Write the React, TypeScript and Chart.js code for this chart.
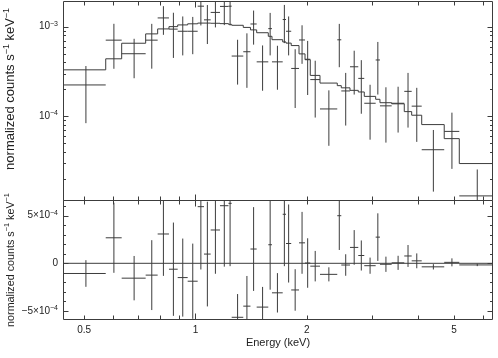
import React, { useEffect, useRef } from "react";
import { Chart, registerables } from "chart.js";

Chart.register(...registerables);

// ---- data ----
const binEdges = [0.4393, 0.572, 0.6317, 0.7334, 0.7903, 0.8479, 0.8952, 0.9526, 1.0137, 1.0544, 1.0992, 1.1648, 1.228, 1.2526, 1.3464, 1.408, 1.4635, 1.5731, 1.6097, 1.7209, 1.7566, 1.8144, 1.9048, 1.9772, 2.0428, 2.1703, 2.4166, 2.4779, 2.6158, 2.7542, 2.8588, 3.069, 3.1521, 3.3904, 3.6669, 3.8398, 4.0873, 4.7021, 5.1642, 6.386];
const flux = [2.24e-4, 7.07e-4, 4.99e-4, 7.07e-4, 1.25e-3, 9.38e-4, 8.88e-4, 8.88e-4, 1.69e-3, 1.19e-3, 1.44e-3, 1.68e-3, 1.69e-3, 4.7e-4, 5.25e-4, 1.07e-3, 4.05e-4, 9.5e-4, 4.05e-4, 1.2e-3, 8.88e-4, 3.42e-4, 7.1e-4, 4.33e-4, 2.57e-4, 1.21e-4, 7.13e-4, 1.92e-4, 3.57e-4, 2.65e-4, 1.4e-4, 4.25e-4, 1.31e-4, 1.4e-4, 1.9e-4, 1.3e-4, 4.25e-5, 6.8e-5, 1.3e-5];
const fluxErr = [1.4e-4, 3.68e-4, 2.33e-4, 3.67e-4, 4.4e-4, 4.9e-4, 4.1e-4, 3.95e-4, 6.6e-4, 5.5e-4, 4.6e-4, 6.4e-4, 6.6e-4, 2.44e-4, 3.17e-4, 4.4e-4, 2.12e-4, 4.72e-4, 2.07e-4, 5.45e-4, 4.1e-4, 2.18e-4, 3.25e-4, 2.6e-4, 1.6e-4, 7.4e-5, 3.6e-4, 1.13e-4, 1.82e-4, 1.58e-4, 8.5e-5, 2.5e-4, 8.0e-5, 7.4e-5, 1.15e-4, 7.8e-5, 2.8e-5, 4.2e-5, 1.26e-5];
const model = [3.3e-4, 4.38e-4, 6.53e-4, 8.3e-4, 9.43e-4, 1.0e-3, 1.045e-3, 1.075e-3, 1.095e-3, 1.095e-3, 1.09e-3, 1.08e-3, 1.06e-3, 1.035e-3, 9.8e-4, 9.2e-4, 8.55e-4, 7.8e-4, 7.15e-4, 6.75e-4, 6.55e-4, 6.15e-4, 4.97e-4, 4.28e-4, 2.86e-4, 2.35e-4, 2.2e-4, 2.08e-4, 1.95e-4, 1.87e-4, 1.67e-4, 1.55e-4, 1.42e-4, 1.38e-4, 1.13e-4, 1.03e-4, 8.1e-5, 5.65e-5, 2.98e-5];
const resid = [-1.07e-4, 2.68e-4, -1.56e-4, -1.24e-4, 3.08e-4, -0.62e-4, -1.5e-4, -1.88e-4, 5.95e-4, 0.97e-4, 3.5e-4, 6.05e-4, 6.3e-4, -5.67e-4, -4.5e-4, 1.5e-4, -4.6e-4, 1.95e-4, -3.1e-4, 5.15e-4, 2.08e-4, -2.8e-4, 2.15e-4, 0.03e-4, -0.3e-4, -1.16e-4, 5.0e-4, -0.18e-4, 1.67e-4, 0.82e-4, -0.25e-4, 2.75e-4, -0.1e-4, 0.05e-4, 0.77e-4, 0.26e-4, -0.37e-4, 0.1e-4, -0.17e-4];

// ---- axes ----
const X_MIN = 0.4412, X_MAX = 6.33;
const Y_MIN = 1.17e-5, Y_MAX = 1.93e-3;
const R_MIN = -5.85e-4, R_MAX = 6.65e-4;
const xTickVals = [0.5, 0.6, 0.7, 0.8, 0.9, 1, 2, 3, 4, 5, 6];
const xMajorVals = [1];
const xTickLabels: Record<string, string> = { "0.5": "0.5", "1": "1", "2": "2", "5": "5" };
const yTickVals = [2e-5, 3e-5, 4e-5, 5e-5, 6e-5, 7e-5, 8e-5, 9e-5, 1e-4, 2e-4, 3e-4, 4e-4, 5e-4, 6e-4, 7e-4, 8e-4, 9e-4, 1e-3];
const yMajorVals = [1e-4, 1e-3];
const yLabels = [
  { v: 1e-3, base: "10", sup: "\u22123" },
  { v: 1e-4, base: "10", sup: "\u22124" },
];
const rTickVals = [-5e-4, -4e-4, -3e-4, -2e-4, -1e-4, 0, 1e-4, 2e-4, 3e-4, 4e-4, 5e-4, 6e-4];
const rMajorVals = [-5e-4, 0, 5e-4];
const rLabels = [
  { v: 5e-4, base: "5\u00d710", sup: "\u22124" },
  { v: 0, base: "0", sup: "" },
  { v: -5e-4, base: "\u22125\u00d710", sup: "\u22124" },
];
const yTitle = [
  { t: "normalized counts s", sup: false },
  { t: "\u22121", sup: true },
  { t: " keV", sup: false },
  { t: "\u22121", sup: true },
];
const xTitle = "Energy (keV)";

const FONT = '"Liberation Sans", Arial, Helvetica, sans-serif';
const INK = "#3c3c3c";
const TEXT = "#222";

function crosses(vals: number[], errs: number[], floor: number | null) {
  const pts: { x: number; y: number | null }[] = [];
  for (let i = 0; i < vals.length; i++) {
    const lo = binEdges[i], hi = binEdges[i + 1];
    const c = (lo + hi) / 2;
    const v = vals[i], e = errs[i];
    let bot = v - e;
    if (floor !== null) bot = Math.max(bot, floor);
    pts.push({ x: lo, y: v }, { x: hi, y: v }, { x: hi, y: null });
    pts.push({ x: c, y: bot }, { x: c, y: v + e }, { x: c, y: null });
  }
  return pts;
}

function steps(vals: number[]) {
  const pts = vals.map((v, i) => ({ x: binEdges[i], y: v }));
  pts.push({ x: binEdges[vals.length], y: vals[vals.length - 1] });
  return pts;
}

function drawRich(ctx: CanvasRenderingContext2D, base: string, sup: string, xRight: number, y: number, fs: number, sfs: number) {
  ctx.font = `${fs}px ${FONT}`;
  const w1 = ctx.measureText(base).width;
  ctx.font = `${sfs}px ${FONT}`;
  const w2 = sup ? ctx.measureText(sup).width : 0;
  const x0 = xRight - w1 - w2;
  ctx.textBaseline = "middle";
  ctx.textAlign = "left";
  ctx.font = `${fs}px ${FONT}`;
  ctx.fillText(base, x0, y);
  if (sup) {
    ctx.font = `${sfs}px ${FONT}`;
    ctx.fillText(sup, x0 + w1, y - fs * 0.3);
  }
}

function titleWidth(ctx: CanvasRenderingContext2D, fs: number) {
  const sfs = fs * 0.68;
  return yTitle.reduce((acc, s) => {
    ctx.font = `${s.sup ? sfs : fs}px ${FONT}`;
    return acc + ctx.measureText(s.t).width;
  }, 0);
}

// draws the rotated y title, sized so that it spans `length` pixels
function drawTitle(ctx: CanvasRenderingContext2D, cx: number, cy: number, length: number) {
  const fs = (10 * length) / titleWidth(ctx, 10);
  const sfs = fs * 0.68;
  const total = titleWidth(ctx, fs);
  ctx.save();
  ctx.translate(cx, cy);
  ctx.rotate(-Math.PI / 2);
  ctx.textBaseline = "alphabetic";
  ctx.textAlign = "left";
  let x = -total / 2;
  yTitle.forEach((s) => {
    ctx.font = `${s.sup ? sfs : fs}px ${FONT}`;
    ctx.fillText(s.t, x, s.sup ? -fs * 0.42 : 0);
    x += ctx.measureText(s.t).width;
  });
  ctx.restore();
}

const framePlugin = {
  id: "frame",
  beforeDatasetDraw(chart: any, args: any) {
    const { xScale, yScale } = args.meta;
    const ctx = chart.ctx;
    ctx.save();
    ctx.beginPath();
    ctx.rect(xScale.left, yScale.top, xScale.right - xScale.left, yScale.bottom - yScale.top);
    ctx.clip();
  },
  afterDatasetDraw(chart: any) {
    chart.ctx.restore();
  },
  afterDraw(chart: any) {
    const ctx: CanvasRenderingContext2D = chart.ctx;
    const xs = chart.scales.x, ys = chart.scales.y, rs = chart.scales.yr;
    const L = xs.left - 0.5, R = xs.right + 0.5;
    const T = ys.top + 0.5, M = ys.bottom + 0.5, B = rs.bottom + 0.5;
    ctx.save();
    ctx.strokeStyle = INK;
    ctx.lineWidth = 1;
    ctx.beginPath();
    ctx.rect(L, T, R - L, M - T);
    ctx.rect(L, M, R - L, B - M);
    const edges: [number, number][] = [[T, 1], [M, -1], [M, 1], [B, -1]];
    xTickVals.forEach((v) => {
      const px = Math.round(xs.getPixelForValue(v)) + 0.5;
      const len = xMajorVals.includes(v) ? 6 : 4;
      edges.forEach(([ey, d]) => {
        ctx.moveTo(px, ey);
        ctx.lineTo(px, ey + d * len);
      });
    });
    const vTicks = (scale: any, vals: number[], majors: number[]) => {
      vals.forEach((v) => {
        const py = Math.round(scale.getPixelForValue(v)) + 0.5;
        if (py < scale.top + 1 || py > scale.bottom) return;
        const len = majors.includes(v) ? 5 : 2.5;
        ctx.moveTo(L, py);
        ctx.lineTo(L + len, py);
        ctx.moveTo(R, py);
        ctx.lineTo(R - len, py);
      });
    };
    vTicks(ys, yTickVals, yMajorVals);
    vTicks(rs, rTickVals, rMajorVals);
    ctx.stroke();

    ctx.fillStyle = TEXT;
    yLabels.forEach((l) => drawRich(ctx, l.base, l.sup, L - 5.5, ys.getPixelForValue(l.v), 10, 7));
    rLabels.forEach((l) => drawRich(ctx, l.base, l.sup, L - 5.5, rs.getPixelForValue(l.v), 10, 7));

    drawTitle(ctx, 14, 89, 162);
    drawTitle(ctx, 14, 260, 134);
    ctx.restore();
  },
};

export default function App() {
  const ref = useRef<HTMLCanvasElement | null>(null);
  useEffect(() => {
    if (!ref.current) return;
    const line = { showLine: true, pointRadius: 0, borderColor: INK, borderWidth: 1, fill: false, spanGaps: false };
    const chart = new Chart(ref.current, {
      type: "scatter",
      data: {
        datasets: [
          { ...line, data: steps(model), yAxisID: "y", stepped: "before" } as any,
          { ...line, data: crosses(flux, fluxErr, 1e-9), yAxisID: "y" } as any,
          { ...line, data: crosses(resid, fluxErr, null), yAxisID: "yr" } as any,
          { ...line, data: [{ x: X_MIN, y: 0 }, { x: X_MAX, y: 0 }], yAxisID: "yr" } as any,
        ],
      },
      options: {
        responsive: false,
        animation: false,
        events: [],
        layout: { padding: { top: 1, right: 6, bottom: 0, left: 0 } },
        plugins: { legend: { display: false }, tooltip: { enabled: false } },
        scales: {
          x: {
            type: "logarithmic",
            position: "bottom",
            min: X_MIN,
            max: X_MAX,
            afterBuildTicks: (s: any) => {
              s.ticks = xTickVals.map((v) => ({ value: v }));
            },
            afterFit: (s: any) => {
              s.height = 39;
            },
            grid: { display: false, drawTicks: false },
            border: { display: false },
            ticks: {
              autoSkip: false,
              maxRotation: 0,
              minRotation: 0,
              padding: 5,
              color: TEXT,
              font: { family: FONT, size: 10 },
              callback: (v: any) => xTickLabels[String(v)] ?? "",
            },
            title: {
              display: true,
              text: xTitle,
              color: TEXT,
              font: { family: FONT, size: 11 },
              padding: { top: 0, bottom: 8 },
            },
          },
          yr: {
            type: "linear",
            position: "left",
            stack: "panels",
            stackWeight: 119,
            weight: 0,
            min: R_MIN,
            max: R_MAX,
            afterBuildTicks: (s: any) => {
              s.ticks = rTickVals.map((v) => ({ value: v }));
            },
            afterFit: (s: any) => {
              s.width = 64;
            },
            grid: { display: false, drawTicks: false },
            border: { display: false },
            ticks: { display: false },
          },
          y: {
            type: "logarithmic",
            position: "left",
            stack: "panels",
            stackWeight: 199,
            weight: 1,
            min: Y_MIN,
            max: Y_MAX,
            afterBuildTicks: (s: any) => {
              s.ticks = yTickVals.map((v) => ({ value: v }));
            },
            afterFit: (s: any) => {
              s.width = 64;
            },
            grid: { display: false, drawTicks: false },
            border: { display: false },
            ticks: { display: false },
          },
        },
      } as any,
      plugins: [framePlugin],
    });
    return () => chart.destroy();
  }, []);
  return (
    <div style={{ position: "absolute", left: 0, top: 0, width: 498, height: 358, background: "#fff" }}>
      <canvas ref={ref} width={498} height={358} style={{ display: "block" }} />
    </div>
  );
}
